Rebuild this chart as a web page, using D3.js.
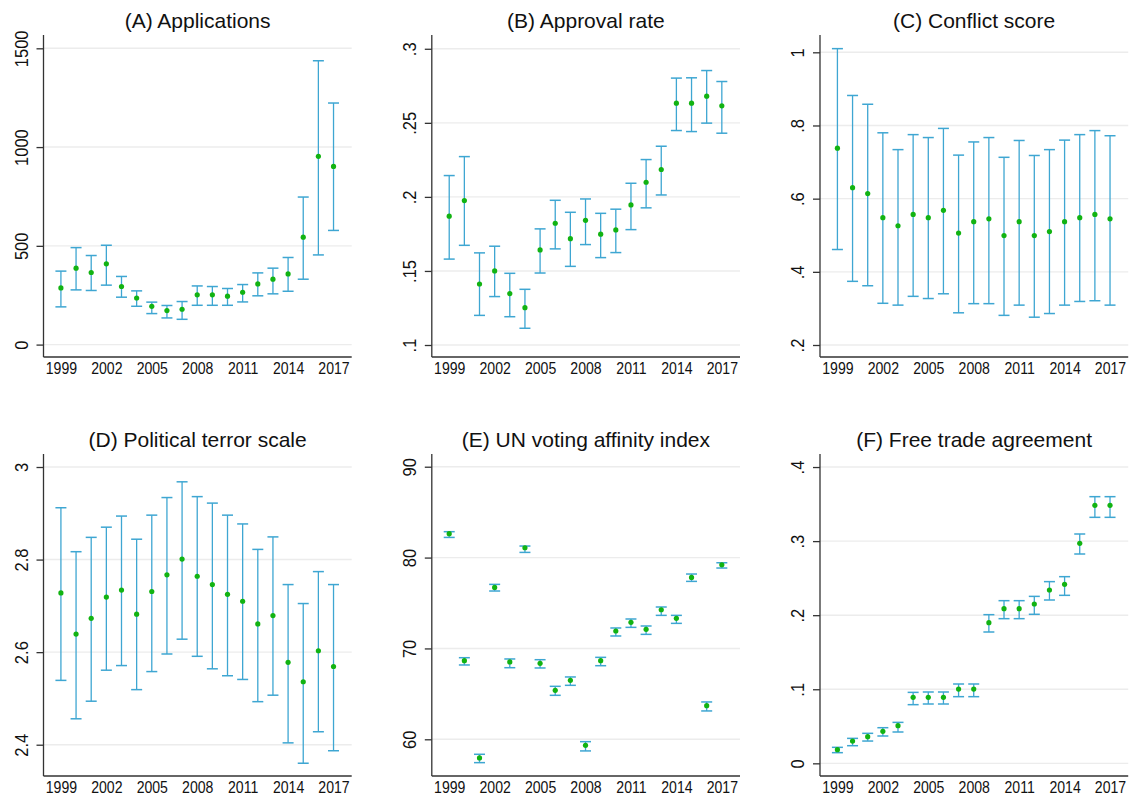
<!DOCTYPE html>
<html>
<head>
<meta charset="utf-8">
<script src="https://cdn.jsdelivr.net/npm/d3@7"></script>
<style>
  html, body { margin: 0; padding: 0; background: #fff; }
  svg { display: block; }
  text { font-family: "Liberation Sans", Arial, Helvetica, sans-serif; fill: #111; }
</style>
</head>
<body>
<svg id="chart" width="1133" height="799"></svg>
<script>
// Survey years shared by every panel
const years = [1999, 2000, 2001, 2002, 2003, 2004, 2005, 2006, 2007, 2008, 2009,
               2010, 2011, 2012, 2013, 2014, 2015, 2016, 2017];
const yearTicks = [1999, 2002, 2005, 2008, 2011, 2014, 2017];

// (A) Applications: estimate and 95% interval
const appEst = [287, 387, 365, 409, 294, 236, 194, 172, 179, 252, 252, 245, 265, 307, 331, 358, 544, 953, 902];
const appLo  = [191, 277, 274, 301, 240, 194, 157, 135, 128, 199, 199, 199, 216, 247, 257, 270, 331, 454, 578];
const appHi  = [372, 491, 451, 503, 345, 272, 215, 198, 218, 297, 294, 284, 304, 363, 387, 441, 747, 1437, 1223];
const appTicks = [0, 500, 1000, 1500];
const appTickLabels = ["0", "500", "1000", "1500"];

// (B) Approval rate
const approvalEst = [.187, .1975, .1412, .150, .1347, .1252, .1642, .1822, .1718, .1842, .1748, .1777, .1946, .2099, .2185, .2633, .2633, .268, .2615];
const approvalLo  = [.158, .1673, .120, .1327, .1191, .1113, .1486, .1649, .1531, .1678, .159, .1624, .1779, .1926, .2013, .2448, .2441, .2498, .243];
const approvalHi  = [.2144, .2272, .1622, .1667, .1484, .1376, .1784, .1977, .1896, .1986, .1889, .1917, .2092, .2252, .2342, .2802, .2804, .2853, .2779];
const approvalTicks = [.1, .15, .2, .25, .3];
const approvalTickLabels = [".1", ".15", ".2", ".25", ".3"];

// (C) Conflict score
const conflictEst = [.738, .630, .614, .548, .526, .557, .548, .568, .506, .537, .545, .499, .537, .499, .510, .537, .548, .557, .545];
const conflictLo  = [.461, .374, .362, .314, .309, .333, .327, .340, .288, .313, .313, .281, .309, .276, .286, .309, .319, .321, .309];
const conflictHi  = [1.010, .882, .858, .780, .734, .775, .767, .792, .719, .755, .767, .713, .759, .718, .734, .760, .775, .786, .772];
const conflictTicks = [.2, .4, .6, .8, 1];
const conflictTickLabels = [".2", ".4", ".6", ".8", "1"];

// (D) Political terror scale
const terrorEst = [2.728, 2.639, 2.673, 2.719, 2.734, 2.682, 2.731, 2.767, 2.801, 2.764, 2.746, 2.725, 2.710, 2.661, 2.679, 2.578, 2.536, 2.603, 2.569];
const terrorLo  = [2.539, 2.456, 2.494, 2.561, 2.571, 2.519, 2.558, 2.596, 2.628, 2.591, 2.564, 2.549, 2.541, 2.493, 2.507, 2.404, 2.360, 2.428, 2.387];
const terrorHi  = [2.912, 2.817, 2.848, 2.870, 2.894, 2.844, 2.896, 2.934, 2.968, 2.936, 2.922, 2.896, 2.877, 2.822, 2.849, 2.746, 2.705, 2.774, 2.746];
const terrorTicks = [2.4, 2.6, 2.8, 3];
const terrorTickLabels = ["2.4", "2.6", "2.8", "3"];

// (E) UN voting affinity index
const unEst = [82.63, 68.65, 57.95, 76.72, 68.51, 81.08, 68.36, 65.39, 66.49, 59.34, 68.65, 71.92, 72.87, 72.10, 74.26, 73.31, 77.82, 63.70, 79.21];
const unLo  = [82.22, 68.18, 57.43, 76.32, 67.88, 80.57, 67.85, 64.84, 65.94, 58.72, 68.10, 71.37, 72.32, 71.55, 73.64, 72.76, 77.38, 63.12, 78.85];
const unHi  = [82.85, 68.98, 58.35, 77.05, 68.84, 81.27, 68.76, 65.83, 66.86, 59.74, 69.02, 72.25, 73.24, 72.47, 74.56, 73.64, 78.19, 64.11, 79.43];
const unTicks = [60, 70, 80, 90];
const unTickLabels = ["60", "70", "80", "90"];

// (F) Free trade agreement
const ftaEst = [.0185, .0301, .036, .0432, .0508, .0891, .0891, .0891, .1003, .1003, .1899, .2088, .2088, .2151, .234, .2417, .297, .3483, .3483];
const ftaLo  = [.0144, .0238, .0301, .0369, .0423, .0792, .0801, .0801, .09, .09, .1773, .1953, .1953, .2012, .2205, .2268, .2826, .3321, .3321];
const ftaHi  = [.0216, .0337, .0405, .0481, .0553, .0958, .0963, .0963, .1071, .1071, .2007, .2196, .2196, .2254, .2453, .252, .3096, .36, .36];
const ftaTicks = [0, .1, .2, .3, .4];
const ftaTickLabels = ["0", ".1", ".2", ".3", ".4"];

const titles = ["(A) Applications", "(B) Approval rate", "(C) Conflict score",
                "(D) Political terror scale", "(E) UN voting affinity index", "(F) Free trade agreement"];

// Panel table built from the arrays above; yDomain is the visible value range of each plot region
const panels = [
  { title: titles[0], est: appEst, lo: appLo, hi: appHi, ticks: appTicks, labels: appTickLabels, yDomain: [-62.8, 1567.4] },
  { title: titles[1], est: approvalEst, lo: approvalLo, hi: approvalHi, ticks: approvalTicks, labels: approvalTickLabels, yDomain: [.0919, .3093] },
  { title: titles[2], est: conflictEst, lo: conflictLo, hi: conflictHi, ticks: conflictTicks, labels: conflictTickLabels, yDomain: [.1672, 1.0473] },
  { title: titles[3], est: terrorEst, lo: terrorLo, hi: terrorHi, ticks: terrorTicks, labels: terrorTickLabels, yDomain: [2.3324, 3.0281] },
  { title: titles[4], est: unEst, lo: unLo, hi: unHi, ticks: unTicks, labels: unTickLabels, yDomain: [55.96, 91.40] },
  { title: titles[5], est: ftaEst, lo: ftaLo, hi: ftaHi, ticks: ftaTicks, labels: ftaTickLabels, yDomain: [-.0171, .4176] }
];

// Grid layout of the six plot regions
const colLeft = [43.5, 431.8, 820];
const rowTop = [35, 454];
const plotW = 308.2;
const plotH = 322;

const barColor = "#3ea6d2";
const dotColor = "#12b312";
const gridColor = "#ececec";
const axisColor = "#333";

const svg = d3.select("#chart");
svg.append("rect").attr("width", 1133).attr("height", 799).attr("fill", "#fff");

panels.forEach((p, i) => {
  const left = colLeft[i % 3];
  const top = rowTop[Math.floor(i / 3)];
  const g = svg.append("g").attr("transform", `translate(${left},${top})`);

  const x = d3.scaleLinear().domain([1997.85, 2018.2]).range([0, plotW]);
  const y = d3.scaleLinear().domain(p.yDomain).range([plotH, 0]);

  // horizontal gridlines
  g.append("g").selectAll("line").data(p.ticks).join("line")
    .attr("x1", 0).attr("x2", plotW)
    .attr("y1", d => y(d)).attr("y2", d => y(d))
    .attr("stroke", gridColor).attr("stroke-width", 1.4);

  // y axis with vertical labels reading upward
  const yAxis = d3.axisLeft(y).tickValues(p.ticks)
    .tickFormat((d, k) => p.labels[k]).tickSize(7).tickPadding(9);
  const ya = g.append("g").call(yAxis);
  ya.attr("font-size", null).attr("font-family", null);
  ya.select(".domain").attr("d", `M0,0V${plotH}`).attr("stroke", axisColor).attr("stroke-width", 1.3);
  ya.selectAll(".tick line").attr("stroke", axisColor).attr("stroke-width", 1.3);
  ya.selectAll(".tick text")
    .attr("x", null).attr("dy", null)
    .attr("text-anchor", "middle")
    .attr("transform", "translate(-16,0) rotate(-90) scale(0.87,1)")
    .style("font-size", "19px")
    .attr("fill", "#111");

  // x axis: labels only, no tick marks
  const xAxis = d3.axisBottom(x).tickValues(yearTicks).tickFormat(d3.format("d")).tickSize(0);
  const xa = g.append("g").attr("transform", `translate(0,${plotH})`).call(xAxis);
  xa.attr("font-size", null).attr("font-family", null);
  xa.select(".domain").attr("d", `M0,0H${plotW}`).attr("stroke", axisColor).attr("stroke-width", 1.3);
  xa.selectAll(".tick text")
    .attr("y", 17).attr("dy", null)
    .attr("transform", "scale(0.865,1)")
    .style("font-size", "16.3px")
    .attr("fill", "#111");

  // confidence intervals
  const bars = g.append("g").selectAll("g").data(years).join("g");
  bars.append("line")
    .attr("x1", (d) => x(d)).attr("x2", (d) => x(d))
    .attr("y1", (d, k) => y(p.lo[k])).attr("y2", (d, k) => y(p.hi[k]))
    .attr("stroke", barColor).attr("stroke-width", 1.3);
  bars.append("line")
    .attr("x1", d => x(d) - 5.5).attr("x2", d => x(d) + 5.5)
    .attr("y1", (d, k) => y(p.lo[k])).attr("y2", (d, k) => y(p.lo[k]))
    .attr("stroke", barColor).attr("stroke-width", 1.5);
  bars.append("line")
    .attr("x1", d => x(d) - 5.5).attr("x2", d => x(d) + 5.5)
    .attr("y1", (d, k) => y(p.hi[k])).attr("y2", (d, k) => y(p.hi[k]))
    .attr("stroke", barColor).attr("stroke-width", 1.5);

  // point estimates
  g.append("g").selectAll("circle").data(years).join("circle")
    .attr("cx", d => x(d)).attr("cy", (d, k) => y(p.est[k]))
    .attr("r", 2.6).attr("fill", dotColor);

  // panel title
  g.append("text")
    .attr("x", plotW / 2).attr("y", -7.5)
    .attr("text-anchor", "middle")
    .style("font-size", "21px")
    .text(p.title);
});
</script>
</body>
</html>
